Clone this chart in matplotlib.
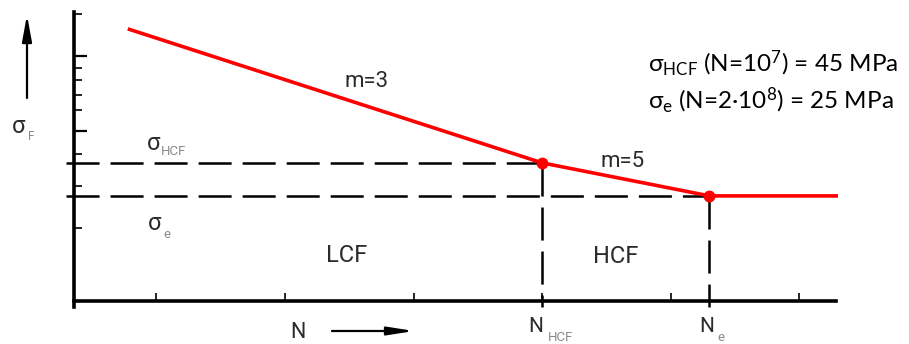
"""Schematic S-N (Woehler) curve with LCF/HCF regions -> out.png."""

import matplotlib.pyplot as plt
from matplotlib.patches import FancyArrowPatch
from matplotlib.ticker import NullLocator

W, H = 909, 344  # figure size in pixels
DPI = 100

# knee points
N_HCF, SIGMA_HCF = 1e7, 45
N_E, SIGMA_E = 2e8, 25

# red S-N curve (cycles, stress in MPa)
curve_n = [6.0e3, N_HCF, N_E, 2.0e9]
curve_sigma = [489, SIGMA_HCF, SIGMA_E, SIGMA_E]
knee_n = [N_HCF, N_E]
knee_sigma = [SIGMA_HCF, SIGMA_E]

# axis ticks (no labels on the schematic)
x_ticks = [1e4, 1e5, 1e6, 1e7, 1e8, 1e9]
y_major = [300, 80]
y_minor = [640, 245, 195, 150, 115, 53, 30, 14]

XLIM = (2.27e3, 2.0e9)
YLIM = (3.85, 660)
DASH_LEFT_N = 2.0e3  # guide lines start a little left of the axis
DASH_BOTTOM_SIGMA = 3.47  # ... and run a little below it

RED = "#FF0000"
TXT = "#2b2b2b"
SUB = "#8a8a8a"
LABEL_FONT = ["Roboto", "DejaVu Sans"]
NOTE_FONT = ["Lato", "DejaVu Sans"]

plt.rcParams.update(
    {
        "lines.scale_dashes": False,
        "mathtext.fontset": "custom",
        "mathtext.rm": "Lato",
        "mathtext.it": "Lato:italic",
        "mathtext.bf": "Lato:bold",
    }
)

fig = plt.figure(figsize=(W / DPI, H / DPI), dpi=DPI)
ax = fig.add_axes([73.5 / W, 43 / H, (838 - 73.5) / W, 289 / H])
ax.set_xscale("log")
ax.set_yscale("log")
ax.set_xlim(*XLIM)
ax.set_ylim(*YLIM)


def px(x, y):
    """pixel position (from top-left) -> figure fraction"""
    return x / W, 1 - y / H


def label(x, y, s, size, color=TXT):
    fig.text(*px(x, y), s, fontsize=size, color=color, family=LABEL_FONT,
             ha="left", va="baseline")


# spines and ticks
for side in ("top", "right"):
    ax.spines[side].set_visible(False)
for side in ("left", "bottom"):
    ax.spines[side].set_linewidth(2.6)
    ax.spines[side].set_color("black")
ax.spines["left"].set_bounds(DASH_BOTTOM_SIGMA, YLIM[1])
ax.spines["bottom"].set_bounds(XLIM[0], 1.94e9)

ax.set_xticks(x_ticks)
ax.xaxis.set_minor_locator(NullLocator())
ax.set_yticks(y_major)
ax.set_yticks(y_minor, minor=True)
ax.tick_params(axis="x", which="major", direction="in", length=5.5, width=1.2,
               labelbottom=False)
ax.tick_params(axis="y", which="major", direction="in", length=9, width=1.6,
               labelleft=False)
ax.tick_params(axis="y", which="minor", direction="in", length=5.4, width=1.2,
               labelleft=False)

# dashed guide lines
dash = (0, (23.8, 7.9))
for n, s in zip(knee_n, knee_sigma):
    ax.plot([DASH_LEFT_N, n], [s, s], color="black", lw=1.8, ls=dash,
            clip_on=False, zorder=2)
    ax.plot([n, n], [s, DASH_BOTTOM_SIGMA], color="black", lw=1.8, ls=dash,
            clip_on=False, zorder=2)

# S-N curve
ax.plot(curve_n, curve_sigma, color=RED, lw=2.6, solid_capstyle="butt",
        clip_on=False, zorder=3)
ax.plot(knee_n, knee_sigma, "o", color=RED, ms=7.5, clip_on=False, zorder=4)

# in-plot labels
label(345, 87, "m=3", 16)
label(600, 167, "m=5", 16)
label(326, 262, "LCF", 17)
label(593, 263, "HCF", 17)
label(147, 150, "σ", 17)
label(161, 155, "HCF", 9.5, SUB)
label(148, 230, "σ", 17)
label(163, 238, "e", 9.5, SUB)

# axis labels
label(12, 133, "σ", 17)
label(28, 140, "F", 8.5, SUB)
label(290, 338, "N", 15.5)
label(528, 332, "N", 15)
label(548, 341, "HCF", 9.5, SUB)
label(699, 332, "N", 15)
label(717, 341, "e", 9.5, SUB)

for tail, tip, hl, hw in (((27, 98), (27, 15), 15.8, 2.9),
                          ((332, 331), (414, 331), 15.8, 2.5)):
    fig.add_artist(FancyArrowPatch(px(*tail), px(*tip), transform=fig.transFigure,
                                   arrowstyle=f"-|>,head_length={hl},head_width={hw}",
                                   mutation_scale=1, lw=1.6, color="black",
                                   shrinkA=0, shrinkB=0))

# material note
fig.text(*px(648, 71), r"σ$_{\mathrm{HCF}}$ (N=10$^{7}$) = 45 MPa", fontsize=17.5,
         family=NOTE_FONT, color="black", ha="left", va="baseline")
fig.text(*px(648, 108), r"σ$_{\mathrm{e}}$ (N=2·10$^{8}$) = 25 MPa", fontsize=17.5,
         family=NOTE_FONT, color="black", ha="left", va="baseline")

fig.savefig("out.png", dpi=DPI)
